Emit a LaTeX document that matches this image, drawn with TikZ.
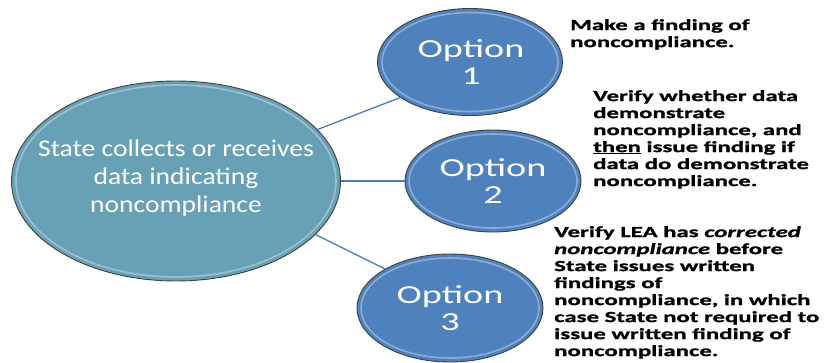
\documentclass[tikz,border=0pt]{standalone}
\usepackage{fontspec}
\usetikzlibrary{shapes.geometric}
\newfontfamily\optfont[FakeStretch=1.47]{Carlito}
\newfontfamily\bigfont[FakeStretch=1.15]{Carlito}
\newfontfamily\sidefont[FakeStretch=1.6,FakeBold=1.2]{Carlito}
\definecolor{bigfill}{HTML}{68A1B6}
\definecolor{optfill}{HTML}{4F81BD}
\definecolor{linkcol}{HTML}{4A7EBB}
\definecolor{rimcol}{HTML}{404040}
\tikzset{
  oval/.style={ellipse, draw=rimcol, line width=0.9pt, inner sep=0pt},
  bigoval/.style={oval, fill=bigfill, minimum width=329pt, minimum height=200pt},
  optoval/.style={oval, fill=optfill},
  rim/.style={draw=white, draw opacity=0.35, line width=1.6pt},
  link/.style={draw=linkcol, line width=1.3pt},
  opttext/.style={text=white, align=center, inner sep=0pt, font=\optfont\fontsize{26}{27}\selectfont},
  bigtext/.style={text=white, align=center, inner sep=0pt, font=\bigfont\fontsize{24}{27.7}\selectfont},
  sidetext/.style={text=black, align=left, inner sep=0pt, anchor=north west, font=\sidefont\bfseries\fontsize{15.5}{17}\selectfont},
}
\begin{document}
\begin{tikzpicture}[x=1pt,y=-1pt]
\useasboundingbox (0,0) rectangle (828,362);
% ovals
\node[bigoval] (big) at (176,181) {};
\node[optoval, minimum width=185pt, minimum height=107pt] (opt1) at (470,62) {};
\node[optoval, minimum width=176pt, minimum height=102pt] (opt2) at (493,181) {};
\node[optoval, minimum width=186pt, minimum height=108pt] (opt3) at (450,308) {};
% inner bevel highlights
\draw[rim] (big.center) ellipse [x radius=160pt, y radius=96pt];
\draw[rim] (opt1.center) ellipse [x radius=88pt, y radius=49.5pt];
\draw[rim] (opt2.center) ellipse [x radius=84pt, y radius=47pt];
\draw[rim] (opt3.center) ellipse [x radius=89pt, y radius=50pt];
% connectors
\draw[link] (big.20) -- (opt1.207);
\draw[link] (big.0) -- (opt2.180);
\draw[link] (big.-21) -- (opt3.149);
% texts
\node[bigtext] (bigt) at (176,178) {State collects or receives\\data indicating\\noncompliance};
\node[opttext] (opt1t) at (471,62) {Option\\1};
\node[opttext] (opt2t) at (493,181) {Option\\2};
\node[opttext] (opt3t) at (450,308) {Option\\3};
\node[sidetext] (side1) at (570,19) {Make a finding of\\noncompliance.};
\node[sidetext] (side2) at (593,90) {Verify whether data\\demonstrate\\noncompliance, and\\\underline{then} issue finding if\\data do demonstrate\\noncompliance.};
\node[sidetext] (side3) at (554,226) {Verify LEA has \textit{corrected}\\\textit{noncompliance} before\\State issues written\\findings of\\noncompliance, in which\\case State not required to\\issue written finding of\\noncompliance.};
\end{tikzpicture}
\end{document}
